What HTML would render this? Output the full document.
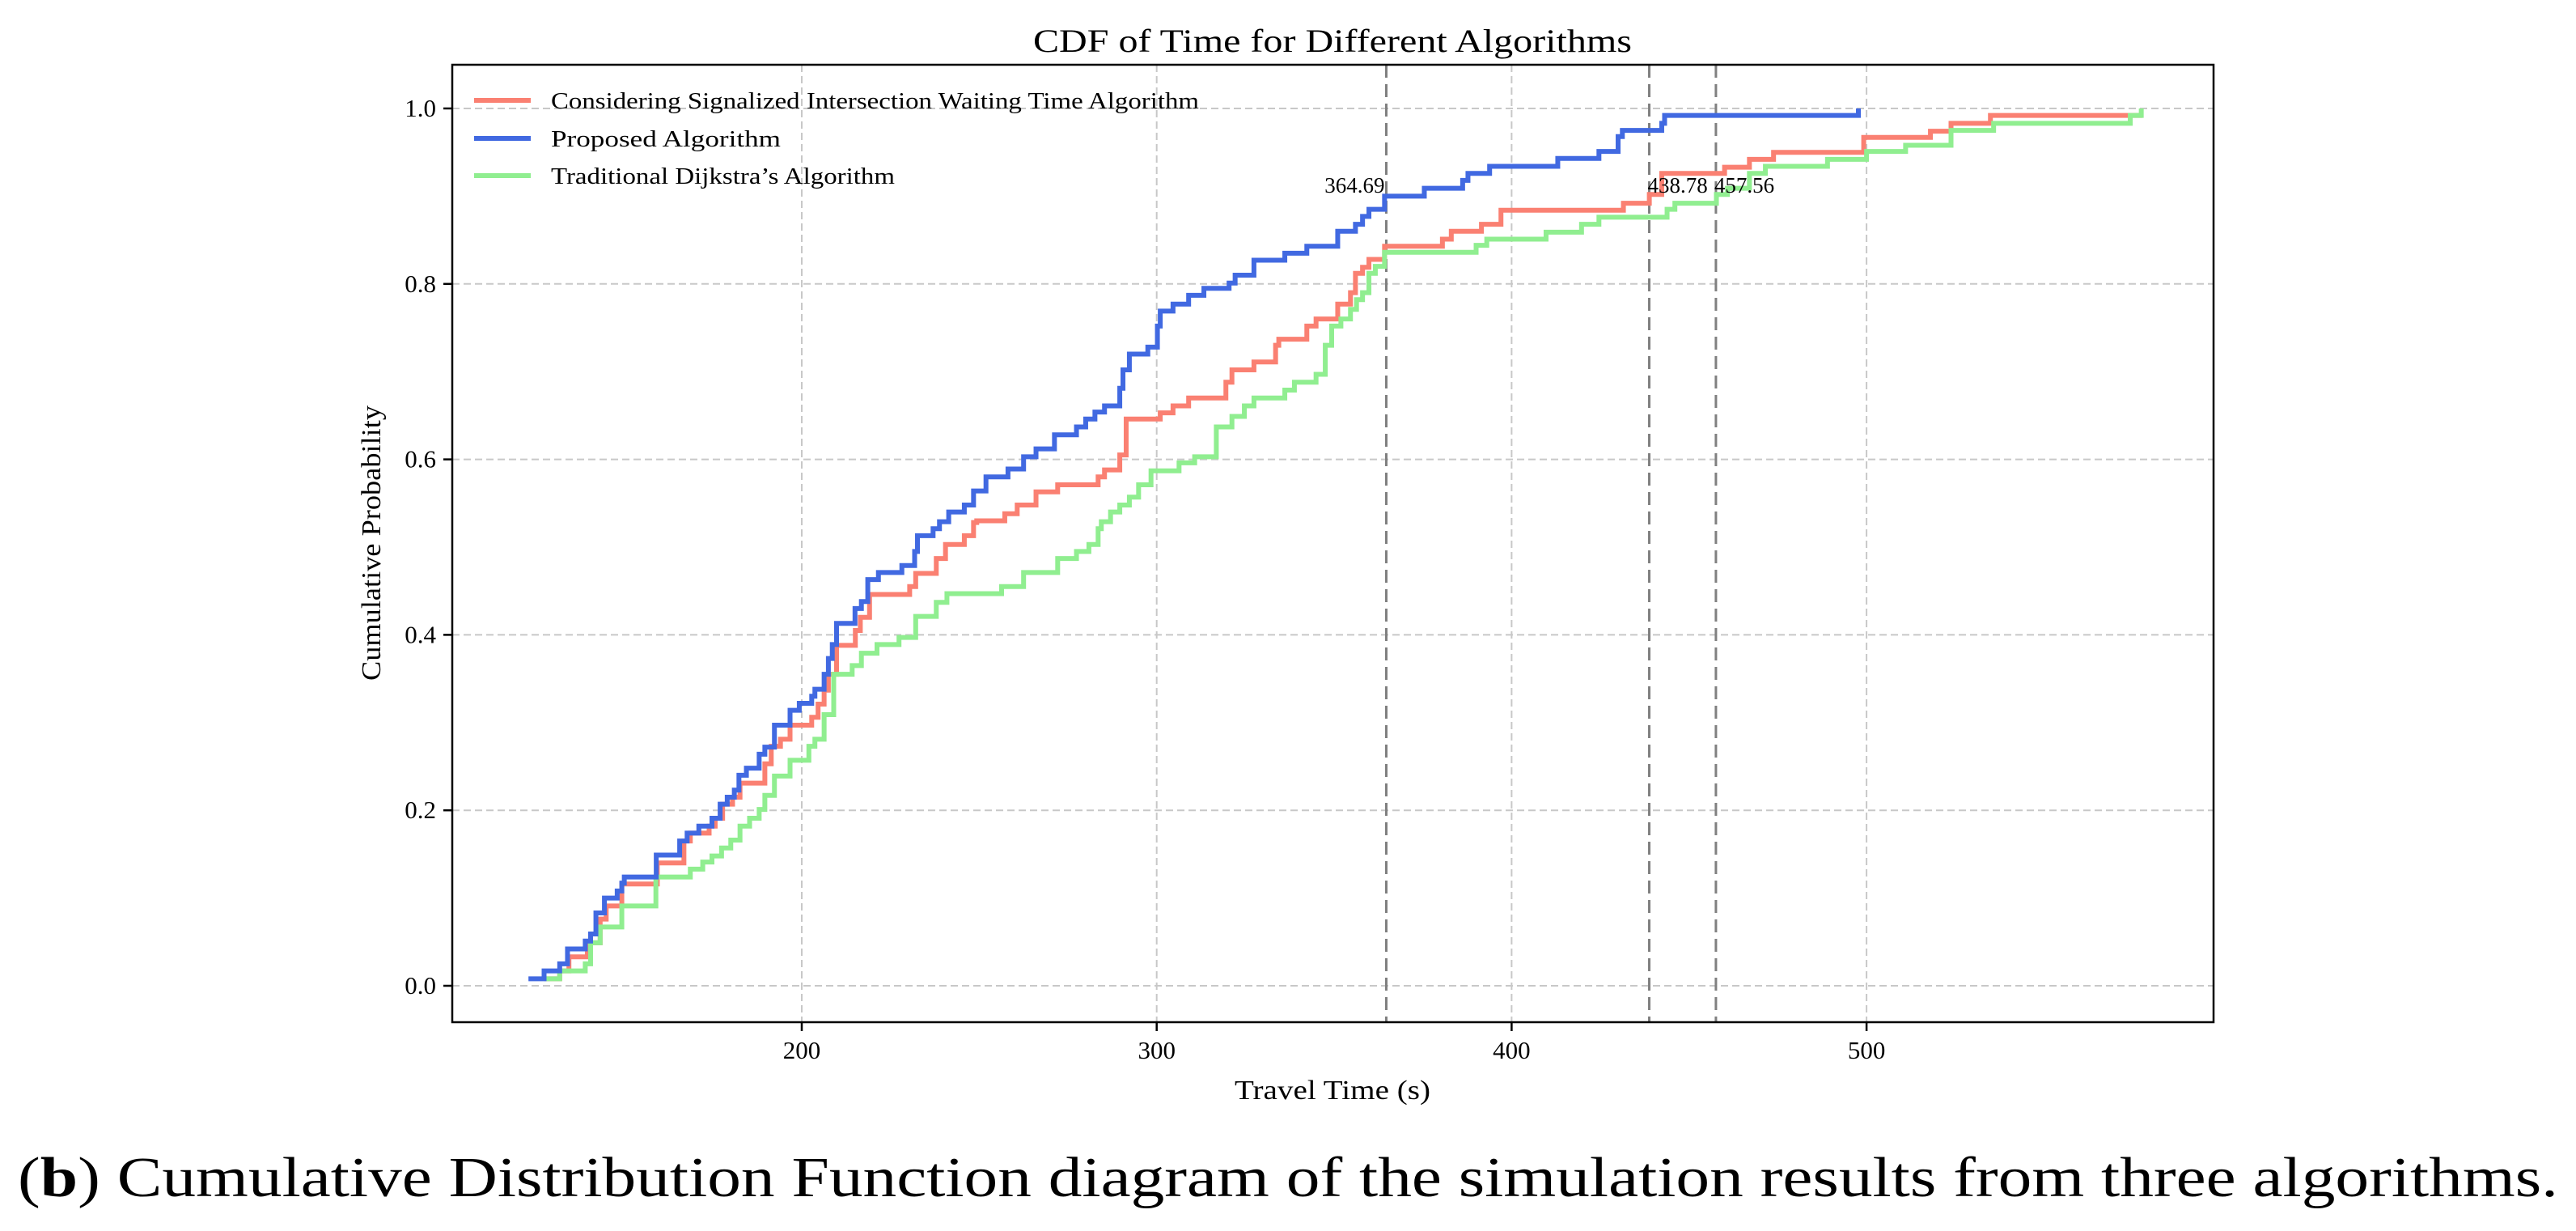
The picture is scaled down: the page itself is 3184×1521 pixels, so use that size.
<!DOCTYPE html>
<html><head><meta charset="utf-8"><style>
html,body{margin:0;padding:0;background:#fff;}
svg{display:block;font-family:"Liberation Serif",serif;}
</style></head><body>
<svg id="chart" width="3184" height="1521" viewBox="0 0 3184 1521" xmlns="http://www.w3.org/2000/svg">
<rect x="0" y="0" width="3184" height="1521" fill="#fff"/>
<text x="1647" y="64" font-size="40" text-anchor="middle" fill="#000" textLength="740" lengthAdjust="spacingAndGlyphs">CDF of Time for Different Algorithms</text>
<g id="grid"></g>
<g id="vlines"></g>
<g id="series"></g>
<rect x="559" y="80" width="2177" height="1183" fill="none" stroke="#000" stroke-width="2.5"/>
<g id="ticks"></g>
<text x="1647" y="1358" font-size="34" text-anchor="middle" textLength="242" lengthAdjust="spacingAndGlyphs">Travel Time (s)</text>
<text x="0" y="0" font-size="34" text-anchor="middle" transform="translate(470,671) rotate(-90)" textLength="340" lengthAdjust="spacingAndGlyphs">Cumulative Probability</text>
<g>
<line x1="586" y1="124" x2="656" y2="124" stroke="#FA8072" stroke-width="6"/>
<text x="681" y="134" font-size="29" textLength="801" lengthAdjust="spacingAndGlyphs">Considering Signalized Intersection Waiting Time Algorithm</text>
<line x1="586" y1="171" x2="656" y2="171" stroke="#4169E1" stroke-width="6"/>
<text x="681" y="181" font-size="29" textLength="284" lengthAdjust="spacingAndGlyphs">Proposed Algorithm</text>
<line x1="586" y1="217" x2="656" y2="217" stroke="#90EE90" stroke-width="6"/>
<text x="681" y="227" font-size="29" textLength="425" lengthAdjust="spacingAndGlyphs">Traditional Dijkstra’s Algorithm</text>
</g>
<g id="annots"></g>
<text x="22" y="1478" font-size="70" textLength="3140" lengthAdjust="spacingAndGlyphs">(<tspan font-weight="bold">b</tspan>) Cumulative Distribution Function diagram of the simulation results from three algorithms.</text>
</svg>
<script>
const xTicks = [200, 300, 400, 500];
const yTicks = [0.0, 0.2, 0.4, 0.6, 0.8, 1.0];
const yTickLabels = ["0.0", "0.2", "0.4", "0.6", "0.8", "1.0"];
const thresholds = [364.69, 438.78, 457.56];
const thresholdLabels = ["364.69", "438.78", "457.56"];

const blueX = [123,127.4,131.8,134,139,140.5,142,144.4,148,149.3,150,159,165.6,167.7,171,174.7,177,179,181,182.3,184.4,188,189.6,192.3,196.7,199.3,202.8,203.7,206.3,207.5,208.6,209.8,215,216.8,218.6,221.6,228.2,231.8,232.6,237,238.8,241.4,245.8,248.4,251.9,258.1,262.5,266,271.2,277.4,280,282.6,285.3,289.6,290.5,292.3,297.5,300.2,301,304.6,309,313.3,320.4,322.1,327.4,336.1,342.3,351,356,358,359.8,364.2,375.4,386.2,387.7,393.8,413,424.6,430,431.2,442.3,443.1,497.7];
const blueP = [0.008,0.017,0.025,0.042,0.051,0.059,0.083,0.1,0.108,0.117,0.124,0.149,0.165,0.174,0.182,0.191,0.207,0.215,0.223,0.24,0.248,0.264,0.272,0.297,0.314,0.322,0.33,0.338,0.355,0.373,0.389,0.413,0.43,0.438,0.463,0.471,0.479,0.495,0.513,0.521,0.529,0.54,0.548,0.564,0.58,0.589,0.603,0.612,0.628,0.637,0.646,0.654,0.661,0.681,0.702,0.72,0.728,0.752,0.769,0.777,0.787,0.795,0.801,0.81,0.827,0.835,0.843,0.86,0.868,0.877,0.885,0.9,0.909,0.918,0.926,0.934,0.943,0.951,0.968,0.975,0.983,0.992,1.0];

const redX = [127.4,131.8,134.4,139.6,143.2,144.9,149.3,159.3,166.8,168.6,173.9,175.6,177.7,180.5,182.6,189.6,191.4,194,196.7,202.8,204.6,206.3,207.5,209.8,215.1,216.5,219.1,230.4,232.1,237.9,240.5,245.8,248.4,249.3,257.2,260.7,266,272.1,283.5,285.3,289.6,291.4,301,304.6,309,319.5,321.2,327.4,333.5,334.4,342.3,344.9,351,354.6,356,358,359.8,364.2,380.5,383,391.5,397,431.5,438.8,442.3,460,467,473.8,499.2,518,523.8,534.9,577.7];
const redP = [0.008,0.017,0.033,0.049,0.076,0.091,0.116,0.14,0.165,0.174,0.182,0.191,0.207,0.215,0.231,0.253,0.273,0.281,0.297,0.306,0.321,0.337,0.355,0.388,0.405,0.42,0.446,0.455,0.47,0.487,0.503,0.513,0.528,0.53,0.538,0.548,0.563,0.571,0.58,0.588,0.605,0.646,0.653,0.661,0.67,0.688,0.702,0.711,0.73,0.737,0.752,0.76,0.777,0.79,0.812,0.819,0.828,0.843,0.851,0.86,0.868,0.884,0.892,0.902,0.926,0.933,0.942,0.95,0.967,0.974,0.983,0.992,0.992];

const greenX = [127.4,131.8,139,140.5,143.2,149.3,158.9,168.6,172.1,174.7,177.4,180,182.6,185.3,188,189.6,192.3,196.7,202,203.7,206.3,209,214.2,216.8,221.2,227.4,232.1,237.9,240.9,256.3,262.5,272.1,277.4,280.9,283.5,284.4,287,289.6,292.3,294.9,298.4,306.3,310.7,316.8,321.2,324.7,327.4,336.1,338.8,344.9,347.5,349.3,351.9,354.6,356.3,358,359.8,361.6,364.2,390,393,409.7,419.7,424.6,443.8,446,457.7,460.8,467,471.5,489,500,511,523.8,535.8,574.3,577.4];
const greenP = [0.008,0.017,0.025,0.049,0.067,0.091,0.124,0.133,0.141,0.148,0.157,0.166,0.182,0.191,0.201,0.217,0.239,0.257,0.273,0.281,0.309,0.355,0.365,0.379,0.389,0.397,0.421,0.437,0.447,0.455,0.471,0.487,0.495,0.503,0.521,0.529,0.54,0.548,0.557,0.571,0.587,0.596,0.603,0.637,0.649,0.661,0.67,0.679,0.688,0.697,0.73,0.752,0.76,0.771,0.782,0.79,0.812,0.82,0.836,0.844,0.851,0.859,0.868,0.876,0.885,0.892,0.902,0.909,0.926,0.934,0.942,0.951,0.958,0.975,0.983,0.992,1.0];

const NS = 'http://www.w3.org/2000/svg';
function xs(v){ return 991 + (v - 200) * 4.387; }
function ys(p){ return 1218 - p * 1084; }
function mk(tag, attrs, parent){ const e = document.createElementNS(NS, tag); for (const k in attrs) e.setAttribute(k, attrs[k]); parent.appendChild(e); return e; }

const grid = document.getElementById('grid');
const ticks = document.getElementById('ticks');
xTicks.forEach(function(t){
  const g = mk('line', {x1: xs(t), x2: xs(t), y1: 80, y2: 1263, stroke: '#c8c8c8', 'stroke-width': 2, 'stroke-dasharray': '9,5'}, grid);
  
  
  const tk = mk('line', {x1: xs(t), x2: xs(t), y1: 1263, y2: 1274, stroke: '#000', 'stroke-width': 2.5}, ticks);
  
  
  const tl = mk('text', {x: xs(t), y: 1308, 'font-size': 31, 'text-anchor': 'middle'}, ticks);
  
  
  tl.textContent = String(t);
});
yTicks.forEach(function(t, i){
  const g = mk('line', {x1: 559, x2: 2736, y1: ys(t), y2: ys(t), stroke: '#c8c8c8', 'stroke-width': 2, 'stroke-dasharray': '9,5'}, grid);
  
  
  const tk = mk('line', {x1: 548, x2: 559, y1: ys(t), y2: ys(t), stroke: '#000', 'stroke-width': 2.5}, ticks);
  
  
  const tl = mk('text', {x: 539, y: ys(t) + 10, 'font-size': 31, 'text-anchor': 'end'}, ticks);
  
  
  tl.textContent = yTickLabels[i];
});

const vl = document.getElementById('vlines');
const an = document.getElementById('annots');
thresholds.forEach(function(t, i){
  const l = mk('line', {x1: xs(t), x2: xs(t), y1: 80, y2: 1263, stroke: '#808080', 'stroke-width': 3, 'stroke-dasharray': '16,8'}, vl);
  
  
  const tx = mk('text', {x: xs(t) - 2, y: 238, 'font-size': 27, 'text-anchor': i === 0 ? 'end' : 'start'}, an);
  
  
  tx.textContent = thresholdLabels[i];
});

function stepPath(X, P){
  let d = 'M' + xs(X[0]) + ' ' + ys(P[0]);
  for (let i = 1; i < X.length; i++){
    d += ' H' + xs(X[i]) + ' V' + ys(P[i]);
  }
  return d;
}
const sg = document.getElementById('series');
const s1 = mk('path', {d: stepPath(redX, redP), fill: 'none', stroke: '#FA8072', 'stroke-width': 6}, sg);


const s3 = mk('path', {d: stepPath(greenX, greenP), fill: 'none', stroke: '#90EE90', 'stroke-width': 6}, sg);


const s2 = mk('path', {d: stepPath(blueX, blueP), fill: 'none', stroke: '#4169E1', 'stroke-width': 6}, sg);


</script>
</body></html>
